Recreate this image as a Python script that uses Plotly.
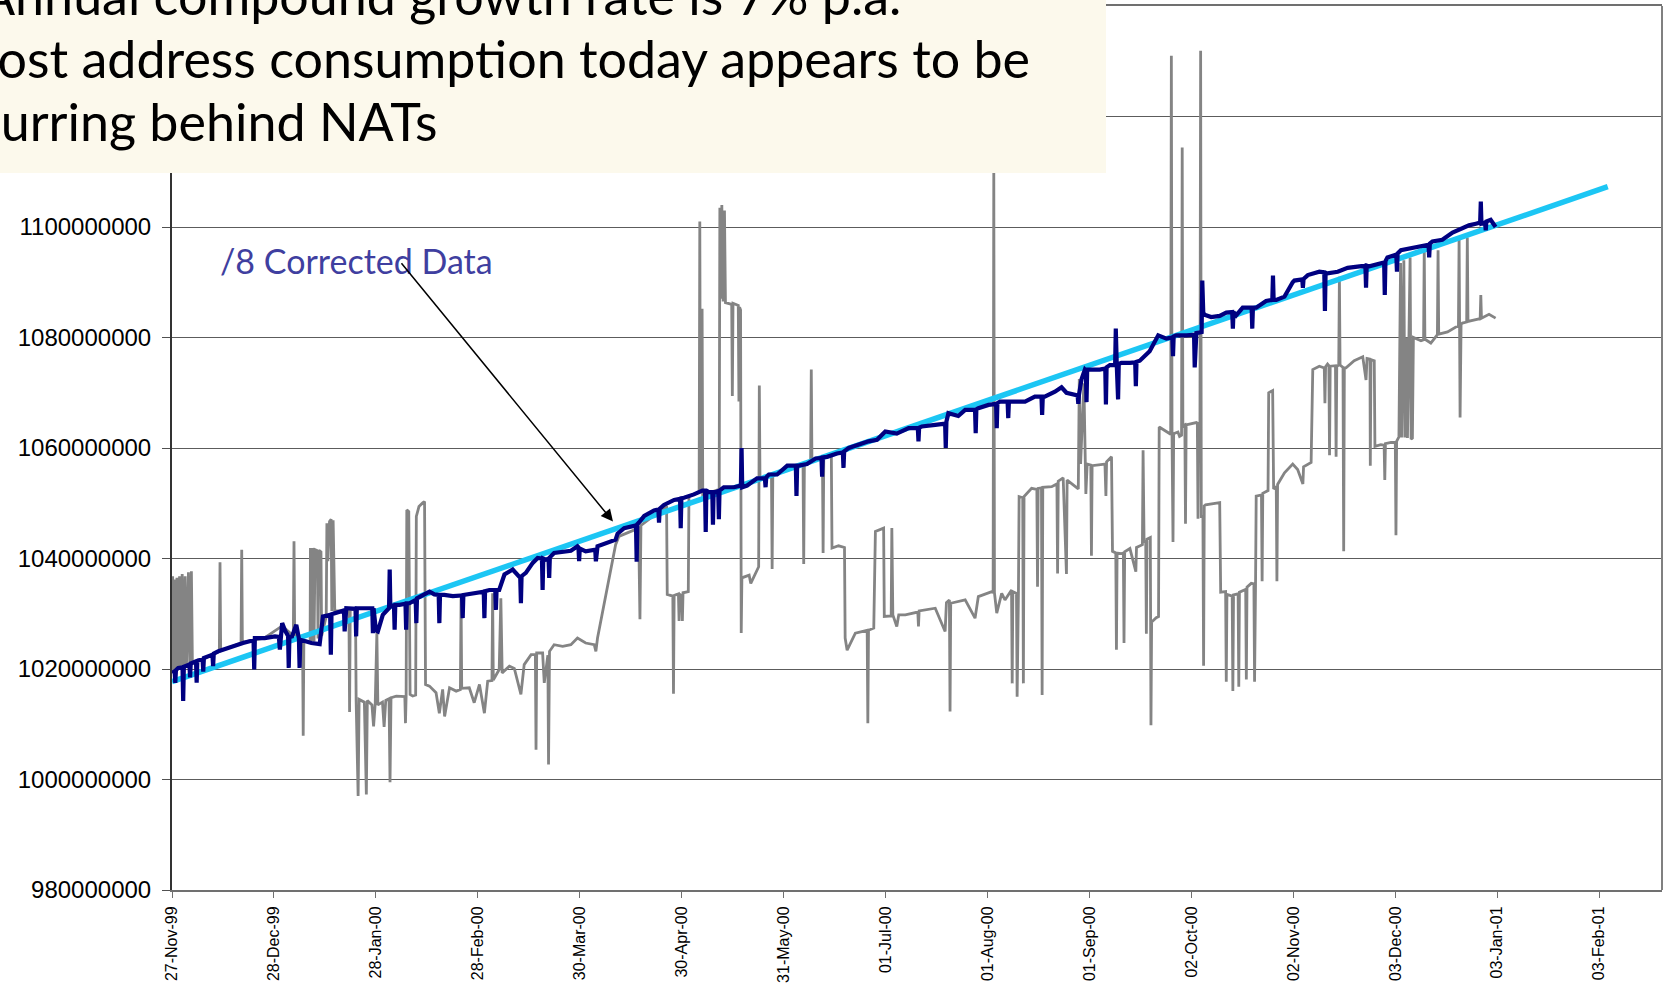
import numpy as np
import pandas as pd
import plotly.graph_objects as go

START = pd.Timestamp("1999-11-27")
X_END_DAY = 453.1

# raw address span (grey), millions, as (days after 27-Nov-99, value)
GRAY = [
    (0.0, 1019.5), (0.2, 1036.8), (0.5, 1019.5), (0.8, 1036.2), (1.1, 1019.8), (1.5, 1036.5),
    (1.9, 1020.2), (2.3, 1036.8), (2.7, 1020.5), (3.1, 1037.2), (3.5, 1020.3), (4.0, 1036.8),
    (4.4, 1020.6), (5.0, 1037.5), (5.4, 1020.8), (5.9, 1037.7), (6.2, 1021.0),
    (10.0, 1022.0), (14.4, 1023.2), (14.6, 1039.3), (14.8, 1023.3), (21.0, 1024.7), (21.2, 1041.6),
    (21.4, 1024.8), (28.0, 1025.6), (33.5, 1027.8), (36.9, 1026.0), (37.1, 1043.1), (37.3, 1026.2),
    (39.7, 1025.3), (39.9, 1007.9), (40.1, 1025.2),
    (42.0, 1024.9), (42.1, 1041.9), (42.5, 1025.0), (42.8, 1041.9), (43.2, 1025.0), (43.5, 1041.6),
    (44.2, 1041.4), (44.4, 1025.5), (44.7, 1041.5), (45.3, 1041.2), (45.5, 1026.0),
    (46.9, 1029.5), (47.1, 1046.4), (47.4, 1039.5), (47.9, 1046.7), (48.4, 1047.1), (48.6, 1030.5),
    (49.0, 1046.9), (49.3, 1039.8), (49.5, 1030.5),
    (53.8, 1030.5), (54.0, 1012.2), (54.2, 1030.8), (55.8, 1030.8), (56.0, 1014.2), (56.6, 997.0),
    (56.9, 1014.5), (58.5, 1014.0), (59.1, 997.3), (59.4, 1014.3), (60.8, 1013.5), (61.3, 1009.6),
    (61.8, 1013.8), (62.3, 1026.5), (62.6, 1013.5), (64.0, 1014.0), (64.5, 1009.5), (65.0, 1014.3),
    (66.0, 1014.6), (66.3, 999.5), (66.6, 1014.8),
    (68.2, 1015.1), (70.8, 1015.0), (71.0, 1010.2), (71.2, 1015.2), (71.4, 1048.8), (72.0, 1048.5),
    (72.4, 1015.4), (73.2, 1015.1), (74.1, 1015.3), (74.3, 1047.6), (75.1, 1049.4), (76.3, 1050.1),
    (76.8, 1050.3), (77.1, 1017.2), (78.3, 1016.9), (80.3, 1015.7), (81.3, 1012.0), (82.3, 1016.3),
    (82.9, 1011.4), (84.4, 1016.6), (86.4, 1016.0), (87.7, 1016.3), (87.9, 1032.8), (88.1, 1016.5),
    (90.4, 1016.6), (91.9, 1013.9), (93.5, 1017.2), (95.0, 1012.0), (96.0, 1017.8), (97.3, 1017.9),
    (97.5, 1033.7), (97.7, 1018.0), (99.5, 1019.9), (100.0, 1032.8), (100.4, 1019.3), (102.6, 1020.5),
    (104.1, 1020.1), (106.1, 1015.4), (107.1, 1020.8), (109.2, 1022.6), (110.5, 1022.6), (110.7, 1005.4),
    (110.9, 1022.9), (112.7, 1022.9), (113.2, 1017.5), (114.3, 1022.5), (114.5, 1002.7), (114.8, 1023.2),
    (116.2, 1024.4), (118.8, 1024.1), (121.3, 1024.4), (123.3, 1025.6), (125.8, 1024.7), (128.4, 1024.4),
    (128.9, 1023.2), (129.4, 1025.6),
    (134.9, 1042.5), (135.9, 1044.0), (141.9, 1045.5), (142.3, 1029.0), (142.6, 1046.0), (150.4, 1049.5),
    (150.6, 1033.5), (152.3, 1033.2), (152.5, 1015.5), (152.7, 1033.3), (154.0, 1033.6), (154.2, 1028.7),
    (154.4, 1033.5), (155.0, 1033.3), (155.2, 1028.7), (155.4, 1033.8), (157.0, 1034.0), (157.2, 1051.3),
    (160.3, 1052.0), (160.5, 1101.0), (160.7, 1052.2), (161.0, 1052.0), (161.2, 1085.2), (161.4, 1051.5),
    (166.4, 1052.5), (166.6, 1103.5), (166.9, 1087.0), (167.2, 1104.0), (167.6, 1086.5), (168.0, 1103.0),
    (168.3, 1086.3), (170.2, 1086.0), (170.4, 1069.4), (170.6, 1086.2), (172.2, 1085.8), (172.4, 1068.4),
    (172.6, 1085.5), (172.9, 1085.0), (173.1, 1026.5), (173.3, 1036.5), (175.5, 1037.0), (176.0, 1035.5),
    (177.5, 1037.5), (178.4, 1038.5), (178.6, 1071.3), (178.8, 1054.5), (182.3, 1055.0), (182.5, 1038.1),
    (182.7, 1055.2), (191.9, 1057.0), (192.1, 1039.0), (192.3, 1057.0), (194.2, 1057.5), (194.4, 1074.2),
    (194.6, 1057.8), (197.8, 1058.0), (198.0, 1041.0), (198.2, 1058.2), (200.5, 1058.6), (200.7, 1041.9),
    (202.7, 1042.3), (204.5, 1042.0), (204.7, 1025.6),
    (205.3, 1023.4), (207.8, 1026.5), (210.3, 1026.8), (211.4, 1027.0), (211.6, 1010.2), (211.8, 1027.0),
    (213.4, 1027.4), (213.9, 1044.9), (216.4, 1045.5), (216.6, 1029.5), (218.7, 1029.6), (218.9, 1045.5),
    (219.2, 1029.8), (220.4, 1027.7), (221.0, 1029.8), (223.0, 1029.8), (226.8, 1030.3), (227.0, 1027.7),
    (227.2, 1030.5), (232.1, 1031.0), (235.1, 1026.8), (235.5, 1032.0), (236.4, 1032.5), (236.6, 1012.3),
    (236.8, 1031.9), (241.2, 1032.5), (244.2, 1029.2), (245.2, 1033.1), (249.3, 1034.0), (249.7, 1033.8),
    (249.9, 1110.5), (250.1, 1033.8), (250.8, 1030.1), (252.3, 1033.7), (253.3, 1032.5), (255.3, 1034.3),
    (255.5, 1017.4), (255.7, 1034.0), (256.8, 1033.7), (257.0, 1015.0), (257.4, 1034.0), (257.6, 1051.2),
    (258.7, 1051.0), (258.9, 1017.4), (259.1, 1051.2), (261.4, 1052.7), (263.0, 1052.5), (263.2, 1034.9),
    (263.4, 1052.7), (264.4, 1052.8), (264.6, 1015.3), (264.8, 1052.9), (267.5, 1053.0), (269.1, 1053.5),
    (269.3, 1037.3), (269.5, 1054.0), (271.0, 1054.6), (272.0, 1037.2), (272.2, 1054.2), (275.6, 1052.6),
    (275.9, 1072.5), (276.3, 1057.1), (277.3, 1071.7), (277.9, 1051.7), (278.3, 1057.1), (279.4, 1056.9),
    (279.6, 1040.5), (279.8, 1056.8), (283.7, 1057.1), (284.0, 1051.3), (284.2, 1057.5), (285.7, 1058.4),
    (286.0, 1041.3), (287.0, 1041.0), (287.2, 1023.5), (287.4, 1041.0), (288.7, 1040.9), (289.3, 1041.0),
    (289.5, 1024.7), (289.7, 1041.2), (291.3, 1041.8), (293.1, 1037.6), (293.3, 1042.0), (295.1, 1042.5),
    (295.3, 1059.6), (295.6, 1043.0), (296.1, 1043.2), (296.3, 1026.4), (296.5, 1043.5), (297.5, 1043.8),
    (297.7, 1009.8), (297.9, 1028.5), (299.3, 1029.3), (300.0, 1029.5), (300.2, 1063.8), (303.4, 1062.5),
    (303.7, 1062.5), (303.9, 1131.0), (304.1, 1062.4), (304.4, 1043.0), (304.6, 1062.6), (305.9, 1062.9),
    (306.4, 1062.1), (307.0, 1062.3), (307.2, 1114.4), (307.4, 1064.0), (308.0, 1064.2), (308.2, 1046.3),
    (308.4, 1064.2), (311.5, 1064.6), (311.8, 1064.5), (312.0, 1047.2), (312.2, 1064.4), (312.6, 1064.5),
    (312.8, 1131.9), (313.0, 1047.6), (313.5, 1047.6), (313.7, 1020.6), (313.9, 1049.5), (314.3, 1049.7),
    (318.6, 1050.1), (318.9, 1033.9), (320.4, 1034.0), (320.6, 1017.7), (320.8, 1033.5), (322.4, 1033.2),
    (322.6, 1016.0), (322.8, 1033.4), (324.2, 1033.6), (324.4, 1016.8), (324.6, 1033.9), (326.5, 1034.4),
    (326.7, 1018.1), (326.9, 1034.8), (328.2, 1035.5), (329.0, 1035.4), (329.2, 1017.7), (329.5, 1035.5),
    (329.7, 1051.3), (331.3, 1051.5), (331.5, 1035.9), (331.7, 1051.8), (332.7, 1052.1), (333.3, 1052.3),
    (333.5, 1070.0), (334.7, 1070.4), (335.0, 1052.6), (335.8, 1053.0), (336.0, 1035.9), (336.2, 1053.4),
    (338.3, 1055.5), (340.8, 1057.1), (342.3, 1056.1), (343.9, 1053.5), (344.1, 1056.6), (346.4, 1057.4),
    (346.9, 1074.2), (348.9, 1074.8), (350.4, 1074.5), (350.6, 1068.1), (350.8, 1074.7), (351.4, 1075.2),
    (351.8, 1074.9), (352.0, 1058.7), (352.2, 1074.8), (353.0, 1074.8), (353.8, 1074.9), (354.0, 1058.4),
    (354.2, 1074.8), (354.8, 1075.0), (355.0, 1091.0), (355.2, 1075.0), (356.1, 1074.6), (356.3, 1041.3),
    (356.5, 1074.5), (357.0, 1074.5), (359.5, 1075.8), (362.1, 1076.5), (363.1, 1072.3), (363.4, 1076.2),
    (364.3, 1076.1), (364.4, 1056.8), (364.6, 1076.0), (365.6, 1075.8), (365.8, 1060.3), (367.6, 1060.6),
    (368.6, 1060.5), (368.8, 1054.2), (369.0, 1060.8), (370.7, 1061.0), (372.0, 1061.0), (372.2, 1044.2),
    (372.4, 1061.2), (373.1, 1062.0), (373.3, 1078.1), (373.6, 1093.5), (373.9, 1061.9), (374.3, 1079.0),
    (374.6, 1094.0), (374.9, 1061.9), (375.4, 1080.0), (375.7, 1061.8), (376.2, 1080.0), (376.5, 1094.5),
    (376.8, 1061.6), (377.2, 1061.8), (377.5, 1080.0), (379.8, 1079.4), (380.6, 1079.6), (380.8, 1096.1),
    (381.0, 1079.7), (382.8, 1079.0), (384.8, 1080.5), (385.0, 1095.8), (385.2, 1080.6), (387.9, 1081.0),
    (390.4, 1081.9), (391.2, 1082.0), (391.4, 1098.1), (391.7, 1065.5), (392.0, 1082.4), (392.4, 1082.6),
    (393.7, 1082.8), (393.9, 1098.1), (394.1, 1082.9), (396.0, 1083.2), (397.8, 1083.4), (398.0, 1087.7),
    (398.2, 1083.5), (400.5, 1084.2), (402.5, 1083.5),
]

# "/8 corrected" address span (navy), millions
NAVY = [
    (0.0, 1019.3), (0.8, 1019.6), (1.0, 1017.5), (1.2, 1019.8), (1.9, 1020.2), (3.2, 1020.3),
    (3.4, 1014.2), (3.6, 1020.4), (5.3, 1020.8), (5.5, 1018.5), (5.7, 1021.0), (7.0, 1021.4),
    (7.3, 1021.4), (7.5, 1017.5), (7.7, 1021.5), (9.3, 1021.8), (9.5, 1019.5), (9.7, 1022.0),
    (11.0, 1022.3), (12.3, 1022.6), (12.5, 1020.5), (12.7, 1022.8), (14.1, 1023.2), (18.1, 1024.1),
    (21.6, 1024.7), (24.8, 1025.2), (25.0, 1019.9), (25.2, 1025.6), (28.2, 1025.6), (31.3, 1025.9),
    (32.5, 1025.8), (32.8, 1023.5), (33.1, 1026.5), (33.5, 1028.3), (34.5, 1026.8), (35.3, 1026.0),
    (35.5, 1020.2), (35.7, 1025.8), (36.5, 1025.9), (37.8, 1028.0), (38.6, 1025.5), (38.8, 1020.2),
    (39.0, 1025.3), (42.4, 1024.7), (44.9, 1024.5), (45.9, 1029.5), (48.1, 1029.8), (48.3, 1022.6),
    (48.5, 1029.9), (49.5, 1030.1), (52.3, 1030.6), (52.5, 1026.8), (52.7, 1030.8), (53.0, 1031.0),
    (55.8, 1030.9), (56.0, 1025.9), (56.2, 1031.0), (59.6, 1031.0), (60.9, 1031.0), (61.1, 1026.5),
    (61.3, 1031.0), (62.0, 1027.0), (62.6, 1026.8), (64.1, 1029.8), (66.0, 1031.0), (66.2, 1038.0),
    (66.4, 1031.3), (67.5, 1031.5), (67.7, 1027.1), (67.9, 1031.6), (69.2, 1031.6), (71.0, 1031.8),
    (71.2, 1027.1), (71.4, 1031.9), (72.2, 1031.9), (74.1, 1032.5), (74.3, 1028.3), (74.5, 1032.8),
    (76.3, 1033.4), (78.3, 1034.0), (79.8, 1033.5), (81.1, 1033.4), (81.3, 1028.3), (81.5, 1033.4),
    (82.8, 1033.4), (85.4, 1033.2), (88.2, 1033.3), (88.4, 1029.2), (88.6, 1033.4), (92.5, 1033.7),
    (94.8, 1034.0), (95.0, 1029.2), (95.2, 1034.1), (96.5, 1034.3), (98.3, 1034.3), (98.5, 1030.7),
    (98.7, 1034.3), (99.5, 1034.3), (101.1, 1037.1), (103.6, 1038.0), (105.1, 1036.9), (105.9, 1036.5),
    (106.1, 1031.9), (106.3, 1036.8), (107.6, 1037.4), (109.7, 1039.2), (111.2, 1040.1), (112.5, 1040.0),
    (112.7, 1034.3), (112.9, 1040.0), (113.7, 1039.8), (114.5, 1040.0), (114.7, 1036.5), (114.9, 1040.2),
    (116.2, 1041.0), (118.8, 1041.3), (121.3, 1041.4), (123.3, 1042.2), (123.6, 1042.0), (123.8, 1039.5),
    (124.0, 1041.8), (125.8, 1041.3), (128.4, 1041.6), (128.7, 1041.6), (128.9, 1039.5), (129.1, 1041.8),
    (129.4, 1042.2), (134.9, 1043.4), (135.5, 1044.5), (137.5, 1045.5), (140.0, 1045.8), (141.1, 1046.0),
    (141.3, 1039.4), (141.5, 1046.2), (142.0, 1046.5), (143.6, 1047.7), (146.6, 1048.7), (147.9, 1048.9),
    (148.1, 1046.5), (148.3, 1049.0), (149.6, 1049.7), (152.7, 1050.6), (154.5, 1050.8), (154.7, 1045.5),
    (154.9, 1050.9), (155.7, 1051.0), (158.7, 1051.6), (161.3, 1052.3), (162.1, 1052.3), (162.3, 1044.8),
    (162.5, 1052.3), (163.3, 1052.0), (164.3, 1052.0), (164.5, 1046.1), (164.7, 1052.0), (165.3, 1052.0),
    (166.1, 1052.2), (166.3, 1047.1), (166.5, 1052.3), (167.8, 1052.9), (170.9, 1052.9), (173.0, 1053.2),
    (173.2, 1060.0), (173.4, 1052.9), (174.9, 1053.2), (177.9, 1054.5), (180.3, 1054.5), (180.5, 1052.9),
    (180.7, 1054.7), (181.5, 1055.2), (184.0, 1055.2), (187.1, 1056.8), (189.7, 1056.8), (189.9, 1051.3),
    (190.1, 1056.8), (190.6, 1056.8), (193.1, 1057.1), (195.7, 1058.1), (197.5, 1058.2), (197.7, 1054.8),
    (197.9, 1058.3), (199.2, 1058.4), (202.2, 1059.0), (204.0, 1059.2), (204.2, 1056.4), (204.4, 1059.4),
    (205.8, 1060.0), (208.8, 1060.6), (211.8, 1061.2), (214.4, 1061.5), (216.9, 1063.0), (220.4, 1062.6),
    (224.0, 1063.6), (226.8, 1063.6), (227.0, 1061.2), (227.2, 1063.7), (228.0, 1063.9), (232.1, 1064.2),
    (235.1, 1064.4), (235.3, 1060.0), (235.5, 1064.8), (236.1, 1066.3), (239.1, 1065.8), (241.2, 1066.9),
    (244.2, 1066.9), (244.4, 1062.7), (244.6, 1067.0), (245.2, 1067.2), (248.3, 1067.8), (250.6, 1068.0),
    (250.8, 1063.6), (251.0, 1068.1), (251.8, 1068.4), (254.1, 1068.4), (254.3, 1065.4), (254.5, 1068.4),
    (255.3, 1068.4), (259.4, 1068.4), (262.4, 1069.3), (264.4, 1069.3), (264.6, 1066.0), (264.8, 1069.3),
    (265.4, 1069.3), (268.5, 1070.2), (270.5, 1071.0), (272.0, 1070.0), (275.4, 1069.5), (275.6, 1068.0),
    (275.8, 1069.6), (276.6, 1072.5), (277.6, 1074.2), (277.9, 1074.0), (278.1, 1068.3), (278.3, 1074.2),
    (279.6, 1074.2), (282.1, 1074.2), (283.8, 1074.4), (284.0, 1067.9), (284.2, 1074.6), (285.2, 1075.0),
    (286.8, 1075.0), (287.0, 1081.6), (287.3, 1075.0), (287.7, 1068.8), (287.9, 1075.2), (288.7, 1075.4),
    (291.3, 1075.4), (292.9, 1075.5), (293.1, 1071.2), (293.3, 1075.6), (294.3, 1075.8), (297.3, 1077.5),
    (299.9, 1080.4), (302.4, 1079.8), (304.2, 1080.0), (304.4, 1076.6), (304.6, 1080.2), (305.4, 1080.4),
    (308.5, 1080.4), (310.8, 1080.5), (311.0, 1074.6), (311.2, 1080.6), (311.5, 1080.8), (313.1, 1081.0),
    (313.3, 1090.3), (313.6, 1084.5), (314.0, 1084.1), (316.0, 1083.7), (318.6, 1083.9), (320.6, 1084.5),
    (322.4, 1084.6), (322.6, 1081.6), (322.8, 1084.6), (323.6, 1084.0), (325.6, 1085.4), (328.3, 1085.4),
    (328.5, 1081.6), (328.7, 1085.4), (329.7, 1085.4), (332.7, 1086.6), (334.6, 1086.8), (334.8, 1091.2),
    (335.0, 1086.8), (335.8, 1086.8), (338.3, 1087.4), (340.8, 1090.0), (341.3, 1090.3), (343.7, 1090.5),
    (343.9, 1089.0), (344.1, 1090.6), (345.4, 1091.3), (348.9, 1091.9), (350.4, 1091.8), (350.6, 1084.8),
    (350.8, 1091.7), (351.4, 1091.6), (354.5, 1091.9), (357.5, 1092.6), (360.5, 1092.9), (362.9, 1093.0),
    (363.1, 1089.0), (363.3, 1093.0), (364.1, 1092.9), (366.1, 1093.2), (368.6, 1093.6), (368.8, 1087.7),
    (369.0, 1093.8), (369.6, 1094.5), (372.3, 1095.0), (372.5, 1091.9), (372.7, 1095.2), (373.7, 1095.8),
    (376.7, 1096.1), (379.8, 1096.5), (382.1, 1096.8), (382.3, 1094.5), (382.5, 1097.0), (383.3, 1097.4),
    (386.3, 1097.7), (389.4, 1099.0), (391.9, 1099.7), (394.4, 1100.3), (396.5, 1100.6), (397.8, 1100.8),
    (398.0, 1104.6), (398.2, 1100.6), (399.3, 1100.8), (399.5, 1099.4), (399.7, 1101.0), (401.0, 1101.3),
    (402.5, 1100.0),
]

# 7% p.a. trend (cyan)
TREND_DAY = [0.0, 436.6]
TREND_VAL = [1017.7, 1107.3]

TICK_DATES = [
    "1999-11-27", "1999-12-28", "2000-01-28", "2000-02-28", "2000-03-30", "2000-04-30",
    "2000-05-31", "2000-07-01", "2000-08-01", "2000-09-01", "2000-10-02", "2000-11-02",
    "2000-12-03", "2001-01-03", "2001-02-03",
]
Y_TICKS = [980, 1000, 1020, 1040, 1060, 1080, 1100, 1120, 1140]
Y_LABEL_MAX = 1100  # labels above this sit under the title panel

HEADLINE = [
    "Annual compound growth rate is 7% p.a.",
    "Most address consumption today appears to be",
    "occurring behind NATs",
]
CALLOUT = "/8 Corrected Data"

# figure geometry (px)
W, H = 1668, 986
ML, MR, MT, MB = 172, 6, 6, 96
PW, PH = W - ML - MR, H - MT - MB


def px_x(px):
    return (px - ML) / PW


def px_y(py):
    return (H - MB - py) / PH


def to_x(days):
    return START + pd.to_timedelta(np.asarray(days, dtype=float), unit="D")


def split(pairs):
    d, v = zip(*pairs)
    return to_x(d), np.array(v) * 1e6


gx, gy = split(GRAY)
nx, ny = split(NAVY)

fig = go.Figure()
fig.add_trace(go.Scatter(x=gx, y=gy, mode="lines", line=dict(color="#848484", width=2.8),
                         hoverinfo="skip"))
fig.add_trace(go.Scatter(x=to_x(TREND_DAY), y=np.array(TREND_VAL) * 1e6, mode="lines",
                         line=dict(color="#1CC6F4", width=5.5), hoverinfo="skip"))
fig.add_trace(go.Scatter(x=nx, y=ny, mode="lines", line=dict(color="#000080", width=4.2),
                         hoverinfo="skip"))

tick_font = dict(family="Liberation Sans, Arial, sans-serif", color="black")
y_text = [f"{v * 1_000_000:d}" if v <= Y_LABEL_MAX else "" for v in Y_TICKS]

fig.update_layout(
    width=W, height=H,
    margin=dict(l=ML, r=MR, t=MT, b=MB, pad=0),
    paper_bgcolor="white", plot_bgcolor="white",
    showlegend=False,
    xaxis=dict(
        type="date", automargin=False,
        range=[START, START + pd.Timedelta(days=X_END_DAY)],
        tickvals=TICK_DATES, tickformat="%d-%b-%y", tickangle=-90,
        ticks="outside", ticklen=6, tickcolor="#707070", ticklabelstandoff=2,
        showgrid=False, zeroline=False,
        showline=True, linecolor="#707070", linewidth=2, mirror=True,
        tickfont=dict(size=16, **tick_font),
    ),
    yaxis=dict(
        automargin=False,
        range=[Y_TICKS[0] * 1e6, Y_TICKS[-1] * 1e6],
        tickvals=[v * 1e6 for v in Y_TICKS], ticktext=y_text,
        ticks="outside", ticklen=8, tickcolor="#505050",
        showgrid=True, gridcolor="#5c5c5c", gridwidth=1.2, zeroline=False,
        showline=True, linecolor="#333333", linewidth=2,
        tickfont=dict(size=24, **tick_font), ticklabelstandoff=6,
    ),
)

# right border of the plot
fig.add_shape(type="line", xref="paper", yref="paper", x0=1, x1=1, y0=0, y1=1,
              line=dict(color="#808080", width=2))

# cream title panel, cut at the top-left of the slide
fig.add_shape(type="rect", xref="paper", yref="paper",
              x0=px_x(-5), x1=px_x(1106), y0=px_y(173), y1=px_y(-5),
              fillcolor="#FCF9EC", line=dict(width=0), layer="above")

head_font = dict(family="Lato, sans-serif", size=52, color="black")
for text, left, mid in zip(HEADLINE, [-22, -52, -80], [-5, 58, 121]):
    fig.add_annotation(text=text, xref="paper", yref="paper", x=px_x(left), y=px_y(mid),
                       xanchor="left", yanchor="middle", showarrow=False, font=head_font)

fig.add_annotation(text=CALLOUT, x=to_x([14.0])[0], y=1094.0e6, xanchor="left",
                   yanchor="middle", showarrow=False,
                   font=dict(family="Lato, sans-serif", size=34, color="#3F3FA0"))

fig.add_annotation(text="", x=to_x([134.1])[0], y=1046.7e6,
                   ax=to_x([69.4])[0], ay=1093.7e6, axref="x", ayref="y",
                   showarrow=True, arrowhead=2, arrowsize=1.6, arrowwidth=1.5,
                   arrowcolor="black", standoff=0)

fig.write_html("out.html", config={"displayModeBar": False},
               post_script="document.body.style.margin='0';")
